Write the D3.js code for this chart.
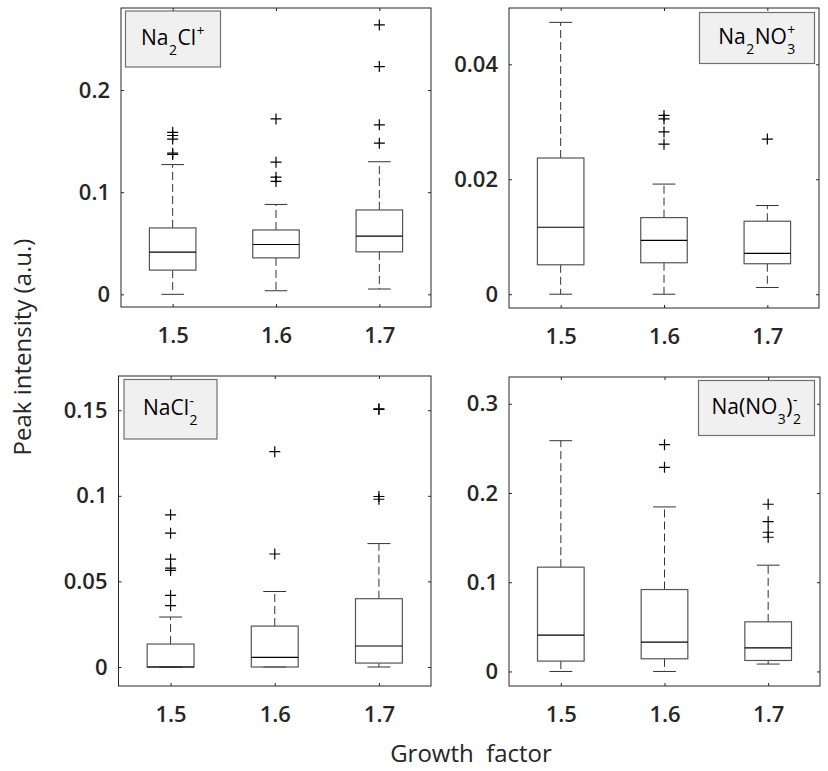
<!DOCTYPE html>
<html>
<head>
<meta charset="utf-8">
<script src="https://cdn.jsdelivr.net/npm/d3@7"></script>
<style>
  body { margin: 0; background: #fff; }
  svg { display: block; }
  text { font-family: "Open Sans", sans-serif; }
</style>
</head>
<body>
<svg id="chart" width="828" height="771"></svg>
<script>
const categories = ['1.5', '1.6', '1.7'];

// per group: [lower whisker, q1, median, q3, upper whisker]
const na2clStats = [
    [0, 0.0237, 0.0413, 0.065, 0.127],
    [0.0035, 0.0357, 0.0488, 0.063, 0.088],
    [0.0052, 0.0416, 0.0569, 0.0826, 0.1298]
];
const na2clOutliers = [
    [0.1586, 0.1555, 0.152, 0.1382, 0.1369],
    [0.1717, 0.1294, 0.1147, 0.1105],
    [0.2637, 0.223, 0.1659, 0.148]
];

const na2no3Stats = [
    [0, 0.00512, 0.01165, 0.0237, 0.0473],
    [0, 0.00547, 0.00938, 0.01333, 0.01916],
    [0.00117, 0.0053, 0.00711, 0.0127, 0.01543]
];
const na2no3Outliers = [
    [],
    [0.0311, 0.0305, 0.02824, 0.0261],
    [0.027]
];

const nacl2Stats = [
    [0, 0, 0, 0.01342, 0.0292],
    [0, 0, 0.0056, 0.0239, 0.0441],
    [0, 0.0023, 0.01226, 0.0399, 0.0721]
];
const nacl2Outliers = [
    [0.0889, 0.0782, 0.063, 0.0578, 0.0564, 0.0418, 0.0358],
    [0.1258, 0.066],
    [0.1508, 0.1505, 0.0996, 0.098]
];

const nano32Stats = [
    [0, 0.0116, 0.0407, 0.1169, 0.2586],
    [0, 0.0142, 0.0329, 0.0918, 0.1844],
    [0.0083, 0.0123, 0.0265, 0.0556, 0.1191]
];
const nano32Outliers = [
    [],
    [0.2541, 0.2288],
    [0.1874, 0.1679, 0.156, 0.1504]
];

const na2clTicks = [0, 0.1, 0.2];
const na2no3Ticks = [0, 0.02, 0.04];
const nacl2Ticks = [0, 0.05, 0.1, 0.15];
const nano32Ticks = [0, 0.1, 0.2, 0.3];

// ion labels: plain text, subscript, superscript pieces
const na2clLabel = [{ t: 'Na' }, { sub: '2' }, { t: 'Cl' }, { sup: '+' }];
const na2no3Label = [{ t: 'Na' }, { sub: '2' }, { t: 'NO' }, { sub: '3', sup: '+' }];
const nacl2Label = [{ t: 'NaCl' }, { sub: '2', sup: '-' }];
const nano32Label = [{ t: 'Na(NO' }, { sub: '3' }, { t: ')' }, { sub: '2', sup: '-' }];

const panels = [
    { stats: na2clStats, outliers: na2clOutliers, ticks: na2clTicks, label: na2clLabel,
      domain: [-0.0124, 0.2803], box: { x: 121, y: 8, w: 310, h: 299 },
      legend: { x: 125.5, y: 11, w: 95, h: 56 } },
    { stats: na2no3Stats, outliers: na2no3Outliers, ticks: na2no3Ticks, label: na2no3Label,
      domain: [-0.0024, 0.0498], box: { x: 509, y: 8, w: 310, h: 300 },
      legend: { x: 699.5, y: 12.5, w: 115, h: 51 } },
    { stats: nacl2Stats, outliers: nacl2Outliers, ticks: nacl2Ticks, label: nacl2Label,
      domain: [-0.0111, 0.170], box: { x: 118.5, y: 376, w: 312.5, h: 310 },
      legend: { x: 124, y: 379.5, w: 93, h: 59.5 } },
    { stats: nano32Stats, outliers: nano32Outliers, ticks: nano32Ticks, label: nano32Label,
      domain: [-0.0163, 0.330], box: { x: 509, y: 377, w: 311, h: 309 },
      legend: { x: 698.5, y: 380.5, w: 116, h: 55 } }
];

const svg = d3.select('#chart');
const ink = '#262626';

function drawPanel(p) {
    const b = p.box;
    const x = d3.scaleLinear().domain([0.5, 3.5]).range([b.x, b.x + b.w]);
    const y = d3.scaleLinear().domain(p.domain).range([b.y + b.h, b.y]);
    const g = svg.append('g');

    // axes with inward ticks on all four sides
    const fmt = d => d === 0 ? '0' : String(d);
    const left = g.append('g').attr('transform', `translate(${b.x},0)`)
        .call(d3.axisLeft(y).tickValues(p.ticks).tickFormat(fmt).tickSizeInner(-3).tickSizeOuter(0).tickPadding(11));
    const right = g.append('g').attr('transform', `translate(${b.x + b.w},0)`)
        .call(d3.axisRight(y).tickValues(p.ticks).tickFormat('').tickSizeInner(-3).tickSizeOuter(0));
    const bottom = g.append('g').attr('transform', `translate(0,${b.y + b.h})`)
        .call(d3.axisBottom(x).tickValues([1, 2, 3]).tickFormat(i => categories[i - 1]).tickSizeInner(-3).tickSizeOuter(0).tickPadding(20));
    const top = g.append('g').attr('transform', `translate(0,${b.y})`)
        .call(d3.axisTop(x).tickValues([1, 2, 3]).tickFormat('').tickSizeInner(-3).tickSizeOuter(0));

    [left, right, bottom, top].forEach(a => {
        a.select('.domain').remove();
        a.selectAll('line').attr('stroke', ink);
        a.selectAll('text')
            .attr('fill', ink)
            .style('font-size', '22px')
            .style('font-weight', 600);
    });

    g.append('rect')
        .attr('x', b.x).attr('y', b.y).attr('width', b.w).attr('height', b.h)
        .attr('fill', 'none').attr('stroke', ink).attr('stroke-width', 1);

    const halfBox = 0.225, halfCap = 0.11;
    const groups = g.selectAll('g.group')
        .data(p.stats.map((s, i) => ({ s, i: i + 1, out: p.outliers[i] })))
        .enter().append('g').attr('class', 'group');

    // whiskers
    groups.append('line')
        .attr('x1', d => x(d.i)).attr('x2', d => x(d.i))
        .attr('y1', d => y(d.s[3])).attr('y2', d => y(d.s[4]))
        .attr('stroke', '#333').attr('stroke-dasharray', '8,4');
    groups.append('line')
        .attr('x1', d => x(d.i)).attr('x2', d => x(d.i))
        .attr('y1', d => y(d.s[1])).attr('y2', d => y(d.s[0]))
        .attr('stroke', '#333').attr('stroke-dasharray', '8,4');

    // caps
    [0, 4].forEach(k => {
        groups.append('line')
            .attr('x1', d => x(d.i - halfCap)).attr('x2', d => x(d.i + halfCap))
            .attr('y1', d => y(d.s[k])).attr('y2', d => y(d.s[k]))
            .attr('stroke', '#333');
    });

    // box
    groups.append('rect')
        .attr('x', d => x(d.i - halfBox))
        .attr('width', d => x(d.i + halfBox) - x(d.i - halfBox))
        .attr('y', d => y(d.s[3]))
        .attr('height', d => y(d.s[1]) - y(d.s[3]))
        .attr('fill', 'none').attr('stroke', '#555').attr('stroke-width', 1.2);

    // median
    groups.append('line')
        .attr('x1', d => x(d.i - halfBox)).attr('x2', d => x(d.i + halfBox))
        .attr('y1', d => y(d.s[2])).attr('y2', d => y(d.s[2]))
        .attr('stroke', '#000').attr('stroke-width', 1.2);

    // outliers as + markers
    groups.selectAll('path.out')
        .data(d => d.out.map(v => ({ i: d.i, v })))
        .enter().append('path')
        .attr('class', 'out')
        .attr('d', d => {
            const cx = x(d.i), cy = y(d.v);
            return `M${cx - 5.5},${cy}H${cx + 5.5}M${cx},${cy - 5.5}V${cy + 5.5}`;
        })
        .attr('stroke', '#000').attr('stroke-width', 1.2).attr('fill', 'none');

    // legend box with the ion name
    const L = p.legend;
    g.append('rect')
        .attr('x', L.x).attr('y', L.y).attr('width', L.w).attr('height', L.h)
        .attr('fill', '#f0f0f0').attr('stroke', '#707070').attr('stroke-width', 1.2);

    const lab = g.append('g');
    let cursor = 0;
    p.label.forEach(part => {
        if (part.t) {
            const t = lab.append('text').attr('x', cursor).attr('y', 0)
                .style('font-size', '21px').attr('fill', '#000').text(part.t);
            cursor += t.node().getComputedTextLength();
        } else {
            let w = 0;
            if (part.sub) {
                const t = lab.append('text').attr('x', cursor + 0.5).attr('y', 10)
                    .style('font-size', '14px').attr('fill', '#000').text(part.sub);
                w = Math.max(w, t.node().getComputedTextLength());
            }
            if (part.sup) {
                const t = lab.append('text').attr('x', cursor + 0.5).attr('y', -9)
                    .style('font-size', '14px').attr('fill', '#000').text(part.sup);
                w = Math.max(w, t.node().getComputedTextLength());
            }
            cursor += w + 1;
        }
    });
    lab.attr('transform', `translate(${L.x + (L.w - cursor) / 2},${L.y + L.h / 2 + 6})`);
}

panels.forEach(drawPanel);

svg.append('text')
    .attr('transform', 'translate(31,347) rotate(-90)')
    .attr('text-anchor', 'middle')
    .attr('fill', ink)
    .style('font-size', '24px')
    .style('font-weight', 500)
    .text('Peak intensity (a.u.)');

svg.append('text')
    .attr('x', 471).attr('y', 762)
    .attr('text-anchor', 'middle')
    .attr('fill', ink)
    .style('font-size', '24px')
    .style('font-weight', 500)
    .style('white-space', 'pre')
    .text('Growth  factor');
</script>
</body>
</html>
